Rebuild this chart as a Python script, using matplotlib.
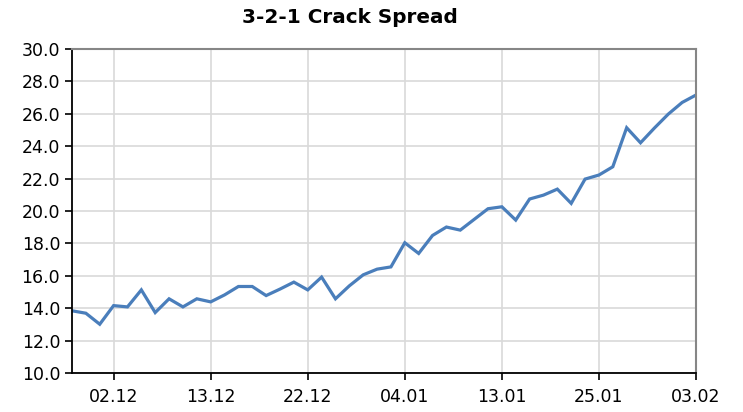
import matplotlib.pyplot as plt

# daily 3-2-1 crack spread values
spread = [13.84, 13.69, 13.01, 14.16, 14.08, 15.13, 13.73, 14.58, 14.08, 14.58,
          14.39, 14.82, 15.34, 15.34, 14.78, 15.18, 15.61, 15.13, 15.92, 14.58,
          15.38, 16.06, 16.41, 16.55, 18.04, 17.38, 18.49, 19.01, 18.82, 19.48,
          20.14, 20.26, 19.44, 20.74, 20.98, 21.35, 20.47, 21.97, 22.22, 22.73,
          25.14, 24.21, 25.12, 25.98, 26.70, 27.16]
tick_pos = [3, 10, 17, 24, 31, 38, 45]
tick_labels = ['02.12', '13.12', '22.12', '04.01', '13.01', '25.01', '03.02']

fig = plt.figure(figsize=(7.43, 4.12), dpi=100)
ax = fig.add_axes([72/743, 1 - 373/412, (696 - 72)/743, (373 - 49)/412])

ax.plot(range(len(spread)), spread, color='#4A7EBB', linewidth=2.3, solid_joinstyle='miter')

ax.set_xlim(0, len(spread) - 1)
ax.set_ylim(10, 30)
ax.set_yticks([10 + 2*i for i in range(11)])
ax.set_yticklabels(['%.1f' % (10 + 2*i) for i in range(11)])
ax.set_xticks(tick_pos)
ax.set_xticklabels(tick_labels)
ax.tick_params(axis='both', labelsize=12.5, length=5, width=1.2, direction='out', colors='black')
ax.tick_params(axis='x', pad=6)

ax.grid(True, color='#D9D9D9', linewidth=1.2)
ax.set_axisbelow(True)

ax.spines['left'].set_color('black')
ax.spines['bottom'].set_color('black')
ax.spines['left'].set_linewidth(1.3)
ax.spines['bottom'].set_linewidth(1.3)
ax.spines['top'].set_color('#868686')
ax.spines['right'].set_color('#868686')
ax.spines['top'].set_linewidth(1.5)
ax.spines['right'].set_linewidth(1.5)

fig.suptitle('3-2-1 Crack Spread', x=350/743, y=0.958, va='center',
             fontsize=14.4, fontweight='bold')

plt.savefig('out.png', dpi=100)
